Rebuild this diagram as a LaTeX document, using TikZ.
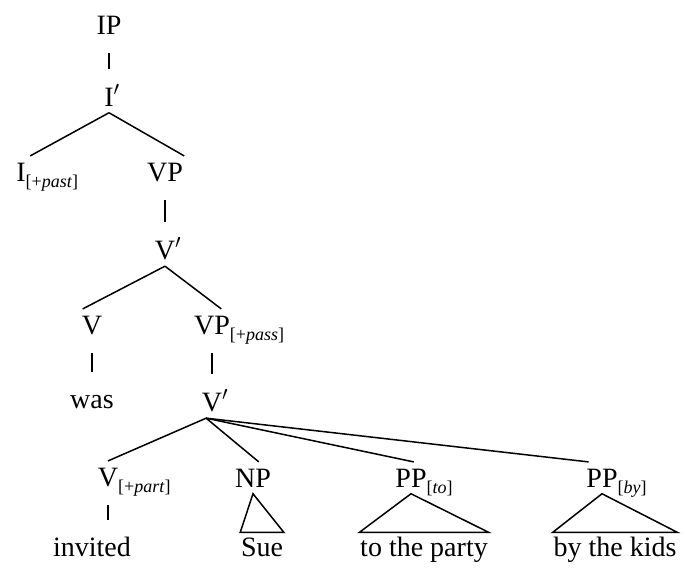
\documentclass[tikz,border=0pt]{standalone}
\usepackage{fontspec}
\setmainfont{Liberation Serif}
\usepackage{tikz}

\newcommand{\fsub}[1]{\rlap{\smash{\raisebox{-3pt}{\fontsize{9}{10}\selectfont #1}}}}
\newcommand{\bpr}{\rlap{\smash{$'$}}}

\begin{document}
\begin{tikzpicture}[x=0.5pt,y=-0.5pt,line width=0.75pt]
    \tikzstyle{every node}=[font=\fontsize{14}{16}\selectfont, anchor=base, inner sep=3pt]
    \tikzstyle{leaf}=[inner xsep=0pt, inner ysep=2pt, text height=9.5pt, text depth=0pt]
    \tikzstyle{unary}=[shorten <=6pt, shorten >=6pt]
    \useasboundingbox (0,0) rectangle (685,568);

	\node (IP) at (109,34) {IP};
	\node (Ibar) at (109,106) {I\bpr};
	\node (I) at (21,181) {I\fsub{[+\textit{past}]}};
	\node (VP) at (165,181) {VP};

	\node (Vbar) at (165,259) {V\bpr};
	\node (V) at (92,334) {V};
	\node (VPp) at (212,334) {VP\fsub{[+\textit{pass}]}};
	\node [leaf] (was) at (92,408) {was};

	\node (Vbar2) at (212,411) {V\bpr};
	\node (Vp) at (108,486) {V\fsub{[+\textit{part}]}};
	\node (NP) at (253,487) {NP};
	\node (PPto) at (411,487) {PP\fsub{[\textit{to}]}};
	\node (PPby) at (602,487) {PP\fsub{[\textit{by}]}};

	\node [leaf] (invited) at (92,556) {invited};
	\node [leaf] (Sue) at (262,556) {Sue};
	\node [leaf] (party) at (424,556) {to the party};
	\node [leaf] (kids) at (615,556) {by the kids};

	\draw [unary] (IP.south) -- (Ibar.north);
	\draw (Ibar.south) -- (I.60);
	\draw (Ibar.south) -- (VP.40);

	\draw [unary] (VP.south) -- (Vbar.north);
	\draw (Vbar.south) -- (V.120);
	\draw (Vbar.south) -- (VPp.60);
	\draw [unary] (V.south) -- (was.north);
	\draw [unary] (VPp.south) -- (Vbar2.north);

	\draw (Vbar2.-110) -- (Vp.north);
	\draw (Vbar2.-110) -- (NP.70);
	\draw (Vbar2.-110) -- (PPto.80);
	\draw (Vbar2.-110) -- (PPby.130);
	\draw [unary] (Vp.south) -- (Vp.south |- invited.north);

	\draw (NP.south) -- (Sue.north west) -- (Sue.north east) -- cycle;
	\draw (PPto.south) -- (party.north west) -- (party.north east) -- cycle;
	\draw (PPby.south) -- (kids.north west) -- (kids.north east) -- cycle;
\end{tikzpicture}
\end{document}
